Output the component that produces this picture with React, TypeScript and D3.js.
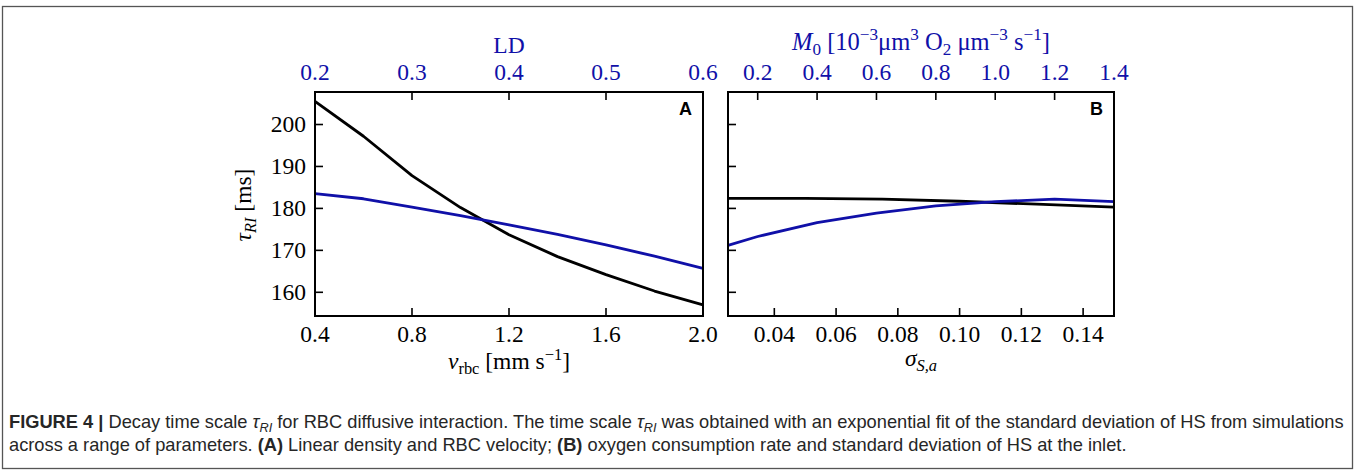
import React, { useLayoutEffect, useRef, useState } from 'react';
import * as d3 from 'd3';

// ---- data ----
const vrbc = [0.4, 0.6, 0.8, 1.0, 1.2, 1.4, 1.6, 1.8, 2.0];
const tauVrbc = [205.5, 197.2, 187.8, 180.2, 173.7, 168.5, 164.2, 160.3, 157.0];
const ld = [0.2, 0.25, 0.3, 0.35, 0.4, 0.45, 0.5, 0.55, 0.6];
const tauLd = [183.5, 182.3, 180.3, 178.3, 176.1, 173.8, 171.3, 168.6, 165.7];
const sigma = [0.025, 0.05, 0.075, 0.1, 0.125, 0.15];
const tauSigma = [182.4, 182.4, 182.2, 181.7, 181.0, 180.3];
const m0 = [0.1, 0.2, 0.4, 0.6, 0.8, 1.0, 1.2, 1.4];
const tauM0 = [171.2, 173.3, 176.6, 178.9, 180.6, 181.6, 182.2, 181.6];

const yTicks = [160, 170, 180, 190, 200];
const vrbcTicks = [0.4, 0.8, 1.2, 1.6, 2.0];
const ldTicks = [0.2, 0.3, 0.4, 0.5, 0.6];
const sigmaTicks = [0.04, 0.06, 0.08, 0.1, 0.12, 0.14];
const m0Ticks = [0.2, 0.4, 0.6, 0.8, 1.0, 1.2, 1.4];

const BLUE = '#1010a8';
const SERIF = "'Liberation Serif', 'DejaVu Serif', serif";
const SANS = "'Liberation Sans', Arial, sans-serif";
const FS = 23.5;

type Tok = { t: string; it?: boolean; sub?: boolean; sup?: boolean; bold?: boolean };

function Rich(props: {
  x: number; y: number; size: number; anchor?: string; fill?: string; family?: string;
  tokens: Tok[]; transform?: string;
}) {
  const { x, y, size, anchor = 'middle', fill = '#000', family = SERIF, tokens, transform } = props;
  let cur = 0;
  return (
    <text x={x} y={y} fontSize={size} textAnchor={anchor} fill={fill} fontFamily={family}
      transform={transform} style={{ whiteSpace: 'pre' }}>
      {tokens.map((k, i) => {
        const target = k.sub ? 0.22 * size : k.sup ? -0.4 * size : 0;
        const dy = target - cur;
        cur = target;
        return (
          <tspan key={i} dy={dy} fontStyle={k.it ? 'italic' : 'normal'}
            fontWeight={k.bold ? 'bold' : 'normal'}
            fontSize={k.sub || k.sup ? size * 0.7 : size}>{k.t}</tspan>
        );
      })}
    </text>
  );
}

const Y0 = 92, Y1 = 316;
const yScale = d3.scaleLinear().domain([154.35, 207.75]).range([Y1, Y0]);

function Panel(props: {
  x0: number; x1: number; bottomDomain: [number, number]; topDomain: [number, number];
  bx: number[]; by: number[]; tx: number[]; ty: number[];
  bTicks: number[]; tTicks: number[]; bFmt: (n: number) => string; tFmt: (n: number) => string;
  yLabels: boolean; letter: string;
}) {
  const { x0, x1 } = props;
  const xb = d3.scaleLinear().domain(props.bottomDomain).range([x0, x1]);
  const xt = d3.scaleLinear().domain(props.topDomain).range([x0, x1]);
  const lineB = d3.line<number>().x((d, i) => xb(props.bx[i])).y(d => yScale(d));
  const lineT = d3.line<number>().x((d, i) => xt(props.tx[i])).y(d => yScale(d));
  const TL = 8;
  return (
    <g>
      <path d={lineB(props.by) || ''} fill="none" stroke="#000" strokeWidth={2.8} strokeLinejoin="round" />
      <path d={lineT(props.ty) || ''} fill="none" stroke={BLUE} strokeWidth={2.8} strokeLinejoin="round" />
      <rect x={x0} y={Y0} width={x1 - x0} height={Y1 - Y0} fill="none" stroke="#000" strokeWidth={2} />
      {yTicks.map(t => (
        <g key={'y' + t}>
          <line x1={x0} x2={x0 + TL} y1={yScale(t)} y2={yScale(t)} stroke="#000" strokeWidth={1.6} />
          {props.yLabels && (
            <text x={x0 - 9} y={yScale(t)} dy="0.34em" textAnchor="end" fontSize={FS} fontFamily={SERIF}>{t}</text>
          )}
        </g>
      ))}
      {props.bTicks.map(t => (
        <g key={'b' + t}>
          {xb(t) > x0 + 1 && xb(t) < x1 - 1 && (
            <line x1={xb(t)} x2={xb(t)} y1={Y1} y2={Y1 - TL} stroke="#000" strokeWidth={1.6} />
          )}
          <text x={xb(t)} y={Y1 + 26} textAnchor="middle" fontSize={FS} fontFamily={SERIF}>{props.bFmt(t)}</text>
        </g>
      ))}
      {props.tTicks.map(t => (
        <g key={'t' + t}>
          {xt(t) > x0 + 1 && xt(t) < x1 - 1 && (
            <line x1={xt(t)} x2={xt(t)} y1={Y0} y2={Y0 + TL} stroke="#000" strokeWidth={1.6} />
          )}
          <text x={xt(t)} y={Y0 - 12} textAnchor="middle" fontSize={FS} fontFamily={SERIF} fill={BLUE}>{props.tFmt(t)}</text>
        </g>
      ))}
      <text x={x1 - 11} y={Y0 + 23} textAnchor="end" fontSize={18} fontWeight="bold" fontFamily={SANS}>{props.letter}</text>
    </g>
  );
}

const captionLine1: Tok[] = [
  { t: 'FIGURE 4 | ', bold: true },
  { t: 'Decay time scale ' }, { t: 'τ', it: true }, { t: 'RI', it: true, sub: true },
  { t: ' for RBC diffusive interaction. The time scale ' }, { t: 'τ', it: true }, { t: 'RI', it: true, sub: true },
  { t: ' was obtained with an exponential fit of the standard deviation of HS from simulations' },
];
const captionLine2: Tok[] = [
  { t: 'across a range of parameters. ' }, { t: '(A)', bold: true },
  { t: ' Linear density and RBC velocity; ' }, { t: '(B)', bold: true },
  { t: ' oxygen consumption rate and standard deviation of HS at the inlet.' },
];

function Caption() {
  const r1 = useRef<SVGGElement>(null);
  const [k, setK] = useState(1);
  useLayoutEffect(() => {
    const t = r1.current?.querySelector('text') as SVGTextElement | null;
    if (t) {
      const w = t.getComputedTextLength();
      if (w > 0) setK(1336 / w);
    }
  }, []);
  const CF = "'Liberation Sans Narrow', 'Liberation Sans', Arial, sans-serif";
  return (
    <g transform={`translate(9,0) scale(${k},1)`} ref={r1}>
      <Rich x={0} y={428} size={17.5} anchor="start" fill="#262626" family={CF} tokens={captionLine1} />
      <Rich x={0} y={451} size={17.5} anchor="start" fill="#262626" family={CF} tokens={captionLine2} />
    </g>
  );
}

export default function App() {
  const f1 = d3.format('.1f');
  const f2 = d3.format('.2f');
  return (
    <svg width={1358} height={472} style={{ position: 'absolute', left: 0, top: 0, background: '#fff' }}>
      <rect x={0} y={0} width={1358} height={472} fill="#fff" />
      <rect x={2.5} y={6.5} width={1350} height={462} fill="none" stroke="#555" strokeWidth={1.3} />
      <Panel x0={315} x1={703} bottomDomain={[0.4, 2.0]} topDomain={[0.2, 0.6]}
        bx={vrbc} by={tauVrbc} tx={ld} ty={tauLd} bTicks={vrbcTicks} tTicks={ldTicks}
        bFmt={f1} tFmt={f1} yLabels={true} letter="A" />
      <Panel x0={728} x1={1114} bottomDomain={[0.025, 0.15]} topDomain={[0.1, 1.4]}
        bx={sigma} by={tauSigma} tx={m0} ty={tauM0} bTicks={sigmaTicks} tTicks={m0Ticks}
        bFmt={f2} tFmt={f1} yLabels={false} letter="B" />
      {/* axis titles */}
      <Rich x={251} y={205} size={FS} transform="rotate(-90 251 205)"
        tokens={[{ t: 'τ', it: true }, { t: 'RI', it: true, sub: true }, { t: ' [ms]' }]} />
      <Rich x={509} y={369} size={FS}
        tokens={[{ t: 'v', it: true }, { t: 'rbc', sub: true }, { t: ' [mm s' }, { t: '−1', sup: true }, { t: ']' }]} />
      <Rich x={921} y={366} size={FS}
        tokens={[{ t: 'σ', it: true }, { t: 'S,a', it: true, sub: true }]} />
      <Rich x={509} y={53} size={FS} fill={BLUE} tokens={[{ t: 'LD' }]} />
      <Rich x={921} y={50} size={24.5} fill={BLUE}
        tokens={[{ t: 'M', it: true }, { t: '0', sub: true }, { t: ' [10' }, { t: '−3', sup: true },
          { t: 'μm' }, { t: '3', sup: true }, { t: ' O' }, { t: '2', sub: true }, { t: ' μm' },
          { t: '−3', sup: true }, { t: ' s' }, { t: '−1', sup: true }, { t: ']' }]} />
      <Caption />
    </svg>
  );
}
